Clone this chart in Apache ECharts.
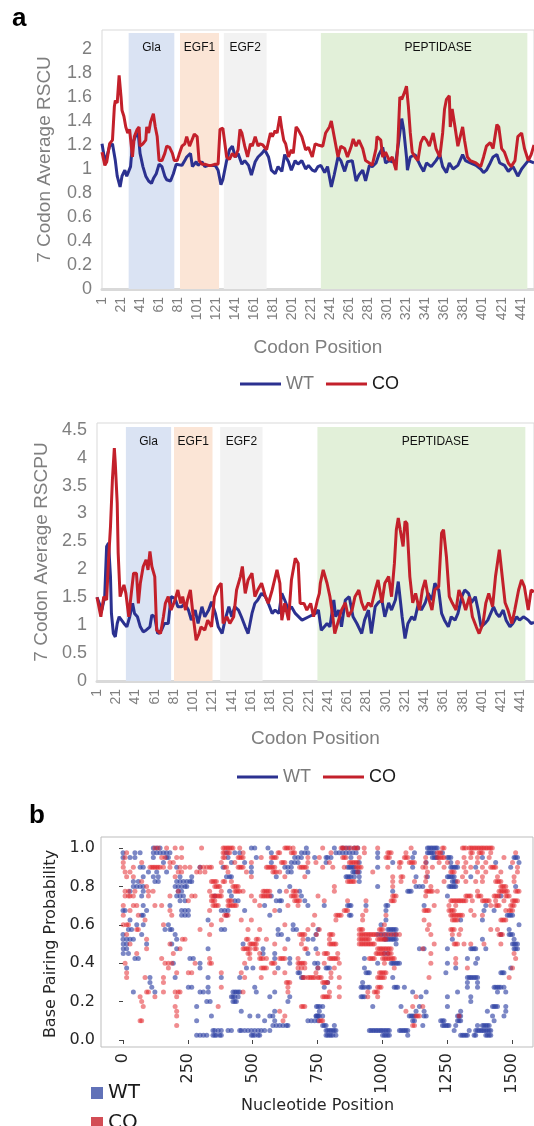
<!DOCTYPE html>
<html><head><meta charset="utf-8">
<script src="https://cdn.jsdelivr.net/npm/echarts@6/dist/echarts.min.js"></script>
<style>html,body{margin:0;padding:0;background:#fff}#c{width:534px;height:1126px}</style>
</head><body><div id="c"></div><script>
// ---------- Panel a (top): 7 Codon Average RSCU ----------
const codonTickLabels = ['1','21','41','61','81','101','121','141','161','181','201','221','241','261','281','301','321','341','361','381','401','421','441'];
const codonCount = 455;
const domainNames = ['Gla','EGF1','EGF2','PEPTIDASE'];
const domainColors = ['#dae3f3','#fbe5d6','#f2f2f2','#e2f0d9'];
const domainStartA = [29, 83, 129, 231];
const domainEndA = [77, 124, 174, 448];
const domainStartB = [31, 81, 129, 230];
const domainEndB = [78, 121, 173, 446];

const rscuWT = [[1,1.21],[4,1.07],[6,1.1],[9,1.19],[12,1.21],[15,1.07],[17,0.94],[20,0.85],[22,0.94],[25,0.99],[27,0.94],[31,1.02],[33,1.21],[36,1.27],[39,1.3],[41,1.13],[44,1.02],[47,0.94],[50,0.9],[53,0.88],[55,0.92],[58,0.96],[61,1.04],[64,1.02],[67,0.94],[69,0.91],[73,0.9],[76,0.96],[79,1.04],[81,1.04],[85,1.03],[88,1.07],[90,1.1],[94,1.13],[96,1.02],[100,1.06],[102,1.03],[106,1.06],[109,1.02],[113,1.03],[116,1.03],[120,1.03],[123,0.99],[126,0.87],[128,0.91],[132,1.07],[135,1.16],[138,1.19],[141,1.1],[144,1.13],[148,1.04],[151,1.07],[155,1.03],[158,0.95],[162,1.06],[165,1.1],[169,1.13],[172,1.16],[176,1.1],[179,0.99],[183,0.96],[186,1.02],[190,0.98],[193,1.12],[197,1.06],[200,0.99],[204,1.07],[207,1.04],[211,1.07],[215,1.0],[218,1.03],[222,0.99],[225,0.98],[228,1.02],[231,1.03],[235,0.97],[238,1.02],[242,0.85],[245,0.95],[249,1.1],[252,1.07],[256,0.98],[259,1.06],[264,1.07],[268,0.9],[271,0.95],[275,0.99],[278,0.9],[282,1.03],[285,1.02],[289,1.05],[292,1.12],[296,1.18],[299,1.05],[303,1.07],[306,1.06],[310,1.07],[313,1.24],[316,1.42],[318,1.33],[321,1.1],[322,0.99],[325,1.1],[330,1.12],[336,1.02],[339,0.98],[342,1.05],[347,1.02],[352,1.07],[356,1.12],[359,1.02],[363,0.97],[366,1.05],[370,1.0],[375,1.03],[380,1.12],[383,1.07],[388,1.05],[394,1.03],[399,1.0],[402,0.97],[405,0.99],[409,1.05],[412,1.1],[416,1.12],[419,1.05],[424,1.03],[428,0.98],[433,1.02],[438,0.94],[442,1.0],[445,1.03],[449,1.07],[455,1.05]];
const rscuCO = [[1,1.14],[4,1.03],[6,1.06],[9,1.21],[12,1.24],[14,1.52],[15,1.57],[17,1.55],[19,1.78],[21,1.6],[22,1.49],[24,1.44],[26,1.35],[28,1.3],[30,1.33],[33,1.1],[35,1.27],[38,1.33],[40,1.35],[41,1.19],[44,1.21],[47,1.24],[48,1.35],[50,1.3],[52,1.39],[53,1.38],[55,1.46],[57,1.35],[59,1.27],[61,1.07],[64,1.07],[67,1.13],[69,1.19],[72,1.18],[75,1.13],[77,1.07],[80,1.07],[82,1.12],[85,1.19],[88,1.21],[90,1.27],[93,1.19],[95,1.18],[98,1.29],[101,1.27],[103,1.07],[106,1.04],[109,1.04],[113,1.03],[116,1.03],[120,1.04],[123,1.04],[125,1.33],[128,1.34],[130,1.33],[132,1.1],[135,1.08],[138,1.13],[141,1.1],[144,1.16],[146,1.33],[148,1.3],[151,1.19],[154,1.1],[157,1.21],[159,1.19],[162,1.27],[165,1.19],[167,1.21],[170,1.2],[174,1.16],[178,1.3],[180,1.27],[183,1.32],[185,1.3],[188,1.44],[190,1.33],[192,1.24],[194,1.21],[197,1.1],[200,1.16],[202,1.13],[205,1.35],[207,1.33],[211,1.27],[215,1.16],[218,1.18],[222,1.1],[225,1.21],[228,1.2],[233,1.19],[236,1.3],[240,1.35],[242,1.4],[245,1.27],[249,1.1],[252,1.19],[256,1.17],[259,1.1],[263,1.19],[265,1.25],[268,1.19],[271,1.24],[275,1.17],[278,1.07],[282,1.05],[285,1.03],[289,1.17],[290,1.27],[294,1.24],[296,1.1],[299,1.14],[303,1.07],[306,1.1],[310,0.99],[312,1.22],[314,1.6],[316,1.58],[319,1.64],[321,1.69],[323,1.52],[325,1.3],[327,1.14],[330,1.1],[333,1.07],[336,1.22],[339,1.27],[342,1.24],[345,1.19],[349,1.3],[352,1.17],[356,1.1],[359,1.3],[361,1.5],[363,1.58],[366,1.61],[367,1.35],[369,1.5],[372,1.35],[375,1.19],[380,1.35],[382,1.24],[385,1.1],[388,1.07],[394,1.05],[399,1.02],[402,1.1],[405,1.19],[409,1.22],[412,1.17],[416,1.37],[418,1.35],[421,1.17],[424,1.14],[428,1.05],[431,1.02],[435,1.07],[438,1.27],[442,1.3],[445,1.17],[449,1.07],[452,1.12],[455,1.2]];

// ---------- Panel a (bottom): 7 Codon Average RSCPU ----------
const rscpuWT = [[1,1.5],[2,1.51],[6,1.27],[9,1.51],[11,2.41],[13,2.47],[15,1.87],[16,1.21],[18,0.85],[20,0.79],[22,1.03],[24,1.15],[26,1.15],[29,1.03],[32,0.97],[35,1.15],[38,1.39],[40,1.21],[43,1.15],[46,0.97],[49,0.88],[52,0.91],[56,0.97],[58,1.18],[61,1.15],[64,0.85],[68,0.91],[71,1.03],[75,1.03],[78,1.51],[82,1.48],[85,1.33],[89,1.33],[92,1.39],[96,1.27],[99,1.09],[103,1.27],[106,1.03],[110,1.33],[113,1.15],[117,1.27],[120,1.42],[124,1.21],[127,0.97],[131,0.85],[134,1.09],[138,1.33],[141,1.15],[144,1.33],[148,1.27],[151,1.15],[155,0.97],[158,0.85],[162,1.21],[165,1.39],[168,1.45],[172,1.57],[176,1.51],[179,1.39],[183,1.21],[186,1.27],[190,1.21],[193,1.57],[196,1.45],[200,1.27],[203,1.33],[207,1.21],[214,1.09],[221,1.15],[228,1.21],[231,1.27],[234,0.91],[240,1.03],[243,0.97],[247,1.45],[249,1.15],[252,1.27],[255,0.97],[259,1.45],[263,1.51],[267,1.15],[271,1.03],[276,0.85],[279,1.09],[283,1.27],[286,0.85],[290,1.33],[293,1.4],[297,1.45],[300,1.15],[304,1.4],[307,1.27],[311,1.45],[314,1.78],[318,1.15],[321,0.76],[324,1.03],[328,1.15],[331,1.09],[335,1.4],[338,1.27],[342,1.4],[345,1.57],[349,1.45],[352,1.75],[356,1.63],[359,1.21],[362,1.09],[366,0.97],[369,1.15],[373,1.09],[376,1.21],[380,1.51],[383,1.63],[387,1.57],[390,1.4],[394,1.51],[397,1.27],[400,0.97],[404,1.03],[407,1.09],[413,1.33],[416,1.21],[419,1.15],[423,1.27],[426,1.09],[430,0.97],[433,1.03],[437,1.15],[440,1.09],[444,1.15],[449,1.09],[452,1.03],[455,1.05]];
const rscpuCO = [[1,1.5],[2,1.51],[5,1.15],[8,1.51],[11,1.45],[13,2.17],[15,2.76],[17,3.6],[19,4.17],[20,3.9],[22,3.18],[23,2.29],[25,1.51],[27,1.63],[29,1.72],[31,1.57],[34,1.15],[37,1.63],[39,1.93],[42,1.93],[44,1.39],[46,1.75],[49,2.05],[52,2.17],[54,1.99],[56,2.32],[58,2.05],[61,1.87],[63,0.91],[67,0.85],[70,1.15],[72,1.39],[75,1.51],[78,1.27],[82,1.45],[85,1.63],[88,1.39],[90,1.51],[93,1.27],[95,1.45],[98,1.63],[101,1.15],[104,0.73],[107,0.85],[109,0.97],[113,0.91],[116,1.09],[120,0.97],[123,1.51],[127,1.69],[130,1.75],[132,1.03],[136,1.15],[139,1.03],[143,1.15],[146,1.63],[150,1.87],[152,2.05],[155,1.57],[158,1.81],[162,1.93],[165,1.51],[168,1.63],[172,1.75],[176,1.51],[179,1.39],[183,1.63],[188,1.99],[191,1.75],[193,1.09],[196,1.39],[200,1.09],[203,1.81],[207,2.2],[210,2.11],[212,1.39],[216,1.39],[219,1.27],[223,1.39],[226,1.15],[230,1.45],[232,1.57],[233,1.75],[236,1.99],[240,1.75],[243,1.51],[246,1.15],[248,0.85],[252,1.09],[255,1.27],[259,1.4],[262,1.15],[266,1.27],[269,1.51],[273,1.63],[276,1.4],[279,1.27],[283,1.4],[286,1.33],[290,1.63],[293,1.81],[297,1.4],[300,1.75],[304,1.87],[307,1.51],[310,2.11],[312,2.71],[314,2.92],[316,2.71],[319,2.41],[321,2.86],[323,2.82],[326,1.87],[329,1.4],[332,1.57],[336,1.27],[339,1.63],[342,1.81],[345,1.51],[349,1.27],[352,1.63],[356,1.69],[359,2.65],[361,2.71],[364,2.23],[367,1.51],[370,1.4],[374,1.27],[377,1.63],[381,1.45],[384,1.27],[388,1.51],[391,1.15],[395,0.97],[398,0.85],[402,1.03],[405,1.4],[408,1.57],[412,1.33],[415,1.87],[419,2.35],[422,1.87],[425,1.4],[428,1.27],[432,1.03],[435,1.27],[439,1.63],[442,1.81],[445,1.69],[449,1.27],[452,1.63],[455,1.6]];

// ---------- Panel b: base pairing probability (rows: [probability, [nucleotide positions]]) ----------
const nucTickLabels = [0, 250, 500, 750, 1000, 1250, 1500];
const pairWT = [
[1.0,[117,130,143,495,508,559,707,815,847,860,873,892,905,1174,1180,1187,1193,1200,1206,1212]],
[0.975,[0,46,66,117,130,143,156,168,181,399,431,450,572,688,701,713,821,834,847,860,873,886,899,982,1124,1174,1180,1187,1193,1200,1232]],
[0.95,[0,27,46,117,168,175,405,514,662,675,688,739,783,789,802,879,982,1117,1193,1200,1206,1212,1251,1257,1264,1386,1508,1514,1521]],
[0.925,[156,418,469,572,649,662,675,783,911,1040,1169,1264,1437,1527]],
[0.9,[66,78,207,297,386,495,624,636,649,866,873,879,886,892,982,1117,1264,1270,1277,1283,1290,1360,1495]],
[0.875,[98,130,168,495,636,649,713,886,892,899,905,911]],
[0.85,[78,117,136,220,265,399,411,418,591,860,866,873,879,892,911,1130,1174,1251,1257,1264,1270,1277,1341]],
[0.825,[40,59,123,136,207,220,233,246,258,265,911,1270,1277,1283]],
[0.8,[40,53,66,78,201,213,226,239,246,643,982,1130,1143,1156,1257,1264,1270,1277,1283,1514]],
[0.775,[27,78,213,226,411,604,681,1040,1098,1104,1111]],
[0.75,[72,207,220,233,354,418,572,688,1251,1457]],
[0.725,[220,239,431,444,591,604,611,701]],
[0.7,[78,181,546,713,776,866,873,879,937,1014,1021,1161,1399]],
[0.675,[0,8,91,226,239,252,379,392,405,469,604,1014,1392,1431]],
[0.65,[72,78,226,239,252,399,566,873,879,1482,1489,1495,1502]],
[0.625,[27,328,1014,1302,1386]],
[0.6,[53,78,175,656,995,1527]],
[0.575,[21,33,162,181,188,379,392,598,656,669,752,1021,1027,1034,1040,1046,1053,1489]],
[0.55,[0,72,201,598,611,744,982,995,1008,1021,1034,1046,1053,1457,1489,1495,1502]],
[0.525,[0,14,27,40,207,636,713,733,1008,1014,1021,1027,1034,1040,1046,1053,1270,1386,1508]],
[0.5,[1,14,91,188,463,1053,1502,1508,1514,1521]],
[0.475,[1,14,207,328,540,744,1143,1161,1251,1341,1347,1354,1360,1399,1508,1514,1521]],
[0.45,[1,21,540,585,713,1008,1021]],
[0.425,[46,59,258,271,585,643,931,1328,1367]],
[0.4,[194,297,643,739,751,982,1034,1040,1046,1053,1059,1066,1251,1360]],
[0.375,[14,297,476,501,598,751,783,789,796,931,1283,1495]],
[0.35,[675,681,937,944,950,1245,1457,1463,1469]],
[0.325,[104,201,328,379,450,688,694,1040,1328,1335,1341,1347,1354,1360,1367]],
[0.3,[104,789,924,1328,1367]],
[0.275,[111,252,265,328,508,776,918,924,931,944,950,1046,1053,1059,1085,1328,1367,1431,1437,1444,1450,1457,1469]],
[0.25,[40,123,297,310,329,424,431,437,444,450,514,585,1117,1169,1290,1444,1476]],
[0.225,[418,424,431,444,566,643,918,924,931,1149,1251,1341]],
[0.2,[323,336,424,431,437,636,1341]],
[0.175,[284,746,752,759,770,963,1072,1143,1251,1425,1431,1437,1444,1476]],
[0.15,[456,585,757,1130,1161,1302,1405,1476]],
[0.125,[341,489,521,566,578,746,752,744,751,757,770,1104,1111,1117,1124,1169,1161,1290,1296,1302,1425,1469]],
[0.1,[284,546,585,713,726,739,752,1117,1124,1225,1232,1238,1290,1296,1302,1431]],
[0.075,[578,591,604,617,630,636,770,776,783,815,1156,1232,1238,1245,1251,1257,1283,1367,1386,1392,1399,1405,1412]],
[0.05,[347,354,367,379,405,418,450,456,469,482,495,508,521,533,546,566,783,789,796,802,809,815,821,950,956,963,969,976,982,989,995,1001,1008,1014,1021,1027,1066,1072,1079,1085,1091,1098,1277,1335,1360,1367,1373,1380,1386,1392,1399,1405,1412,1418]],
[0.025,[284,297,310,323,347,354,360,373,379,495,501,508,521,527,783,789,796,802,809,821,1001,1008,1014,1021,1027,1098,1302,1309,1315,1322,1328,1354,1360,1399,1405,1412,1418]]
];
const pairCO = [
[1.0,[123,136,168,201,226,303,386,392,399,405,411,418,424,450,624,630,636,643,656,770,841,847,853,866,879,892,899,905,930,982,1111,1232,1238,1309,1315,1322,1335,1341,1347,1354,1360,1367,1373,1380,1386,1392,1399,1405,1412,1418,1424]],
[0.975,[14,386,392,405,411,463,598,604,649,656,662,802,931,1021,1027,1034,1091,1212,1219,1225,1341,1347,1373,1380,1386,1418,1514]],
[0.95,[8,149,162,207,226,386,392,444,450,456,463,533,572,578,585,591,713,757,847,853,860,911,1014,1021,1027,1085,1091,1098,1167,1212,1219,1225,1232,1238,1315,1341,1367,1412,1469]],
[0.925,[1,72,181,194,379,431,495,611,617,624,713,744,796,873,879,886,892,899,905,1066,1072,1104,1111,1117,1124,1167,1219,1251,1290,1322,1367,1399,1502]],
[0.9,[1,40,104,111,117,123,130,136,143,156,181,220,239,258,297,310,323,334,341,392,399,444,450,456,463,553,559,566,572,578,585,681,688,694,701,707,770,809,853,899,905,911,918,1021,1066,1156,1167,1193,1238,1315,1341,1386,1418,1425,1431,1437,1521]],
[0.875,[8,27,213,226,284,297,316,405,476,578,585,591,604,905,963,1174,1264,1270,1277,1322,1367,1399,1457,1521]],
[0.85,[14,40,201,495,624,701,1040,1072,1079,1169,1309,1386,1444,1508]],
[0.825,[72,341,347,354,360,386,392,418,866,873,879,886,892,1040,1072,1124,1167,1238,1290,1322,1360,1386,1437,1444,1450,1457,1508]],
[0.8,[91,354,360,367,373,424,431,437,444,815,1040,1187,1457,1463,1469,1476]],
[0.775,[8,21,46,98,116,213,334,379,431,437,444,450,463,540,546,553,559,566,630,656,662,669,815,1169,1174,1180,1187,1193,1212,1367,1450,1457,1463,1469,1476,1482,1514,1521,1527]],
[0.75,[8,21,27,40,98,181,265,278,341,347,354,360,367,373,379,495,533,540,546,553,559,566,649,656,662,669,752,1040,1046,1053,1167,1322,1328,1335,1341,1367,1373,1380,1431,1437,1444,1450,1476,1482,1489]],
[0.725,[252,341,347,354,405,411,418,508,662,669,675,681,776,866,937,1034,1040,1046,1264,1270,1277,1283,1290,1296,1302,1309,1315,1322,1347,1386,1392,1399,1405,1412,1437,1469,1502,1508,1514,1521]],
[0.7,[1,40,53,123,149,347,354,360,367,405,411,418,424,431,437,527,636,675,1200,1257,1283,1418,1437,1444,1450,1495,1502,1508]],
[0.675,[27,181,334,585,853,860,866,937,1161,1167,1174,1180,1257,1264,1270,1277,1341,1476,1489,1495,1502]],
[0.65,[1,59,188,392,399,405,739,821,828,834,841,924,1014,1264,1270,1277,1283,1290,1296,1302,1309,1354,1386]],
[0.625,[85,379,456,495,821,924,1161,1270,1277,1283,1290,1457,1463,1469,1476]],
[0.6,[1,14,21,156,341,624,733,1008,1180]],
[0.575,[53,59,297,482,527,713,757,911,918,924,989,995,1001,1174,1264,1270,1277,1302,1418,1444]],
[0.55,[14,334,681,688,694,701,746,796,802,809,911,918,924,931,937,944,950,956,963,969,976,989,1001,1014,1027,1040,1053,1066,1187,1270,1296,1450,1457,1463]],
[0.525,[91,229,239,476,482,514,521,553,694,796,911,918,924,931,937,944,950,982,989,995,1001,1008,1014]],
[0.5,[27,181,489,495,501,508,514,585,688,796,802,809,815,821,911,918,924,931,937,944,950,956,963,969,1200,1277,1283,1290,1315,1341,1392,1457]],
[0.475,[91,220,463,469,476,482,489,508,514,624,701,707,982,989,995,1001,1008,1014,1021,1027,1034,1156]],
[0.45,[53,194,482,489,527,751,776,783,789,828,976,982,989,995,1001,1008,1021,1027,1034,1187,1508]],
[0.425,[149,334,489,527,533,540,553,604,611,617,624,675,796,802,809,815,821,828,950,956,963,969,1001,1008,1014,1021,1027,1034,1040,1046,1283,1514]],
[0.4,[8,162,175,188,278,334,341,469,572,578,585,675,681,688,694,701,776,834,1008,1187,1283]],
[0.375,[175,533,540,546,553,675,688,701,752,815,1046,1328,1502]],
[0.35,[14,207,252,265,379,456,585,624,744,802,989,995,1001,1008,1014]],
[0.325,[14,85,156,469,533,694,701,713,720,726,733,739,751,757,764,802,834,982,989,995,1001,1008,1180,1489]],
[0.3,[156,630,636,643,770,776,783,789]],
[0.275,[379,636,834,982,989,995]],
[0.25,[91,98,156,201,213,220,463,636,796,944,969,976,982]],
[0.225,[66,123,207,770,776,783,789,796,834,944,982,1130]],
[0.2,[72]],
[0.175,[78,201,367,688,694,701,1117,1156]],
[0.15,[207,604,1091]],
[0.125,[207,624,1130,1136,1143,1296]],
[0.1,[66,72,617,757,764,770]],
[0.075,[207,1117,1124]]
];

// ---------- build ----------
const EXCEL_FONT = 'Liberation Sans, Arial, sans-serif';
const MPL_FONT = 'DejaVu Sans, sans-serif';
const WT_COLOR = '#2b3190';
const CO_COLOR = '#c3202b';
const codonCats = Array.from({length: codonCount}, (_, i) => String(i + 1));
const toCat = arr => arr.map(([c, v]) => [String(c), v]);
const flatRows = rows => rows.flatMap(([p, xs]) => xs.map(x => [x, p]));

function domainAreas(starts, ends, top) {
  return domainNames.map((n, i) => [
    {name: n, xAxis: String(starts[i]), yAxis: 0, itemStyle: {color: domainColors[i]},
     label: n === 'PEPTIDASE' ? {offset: [14, 0]} : {}},
    {xAxis: String(ends[i]), yAxis: top}
  ]);
}
const stepFmt = step => v => (Math.abs(v / step - Math.round(v / step)) < 1e-6 ? String(+v.toFixed(2)) : '');

function codonXAxis(gridIndex, nameGap) {
  return {
    type: 'category', gridIndex, data: codonCats, boundaryGap: false,
    axisLine: {show: true, lineStyle: {color: '#d9d9d9', width: 3}},
    axisTick: {show: false},
    axisLabel: {interval: 19, rotate: 90, fontSize: 14, color: '#7f7f7f', fontFamily: EXCEL_FONT, margin: 8},
    splitLine: {show: false},
    name: 'Codon Position', nameLocation: 'middle', nameGap,
    nameTextStyle: {fontSize: 19, color: '#7f7f7f', fontFamily: EXCEL_FONT}
  };
}
function rscuYAxis(gridIndex, max, step, name, nameGap) {
  return {
    type: 'value', gridIndex, min: 0, max, interval: step,
    axisLine: {show: false}, axisTick: {show: false}, splitLine: {show: false},
    axisLabel: {formatter: stepFmt(step), fontSize: 18, color: '#7f7f7f', fontFamily: EXCEL_FONT, margin: 10},
    name, nameLocation: 'middle', nameGap,
    nameTextStyle: {fontSize: 19, color: '#7f7f7f', fontFamily: EXCEL_FONT}
  };
}
function lineSeries(name, data, color, xi) {
  return {type: 'line', name, xAxisIndex: xi, yAxisIndex: xi, data: toCat(data), showSymbol: false, symbol: 'none',
    lineStyle: {color, width: 3}, itemStyle: {color}, z: 3, animation: false};
}
function bgSeries(xi, starts, ends, top) {
  return {type: 'line', name: 'bg' + xi, xAxisIndex: xi, yAxisIndex: xi, data: [], z: 1, silent: true,
    markArea: {silent: true, z: 1, label: {show: true, position: 'insideTop', distance: 9, color: '#111', fontSize: 12, fontFamily: EXCEL_FONT},
      data: domainAreas(starts, ends, top)}};
}
const lineLegend = (left, top) => ({left, top, itemWidth: 41, itemHeight: 14, itemGap: 12, icon: 'path://M0,6H41V9H0Z',
  textStyle: {fontSize: 18, fontFamily: EXCEL_FONT},
  data: [{name: 'WT', textStyle: {color: '#7a7a7a'}}, {name: 'CO', textStyle: {color: '#1a1a1a'}}]});
const dotLegend = (top, name, color) => ({left: 86, top, icon: 'rect', itemWidth: 12, itemHeight: 12,
  formatter: n => n.replace('_b', ''),
  textStyle: {fontSize: 20, color: '#1a1a1a', fontFamily: MPL_FONT},
  data: [{name, itemStyle: {color}}]});

const chart = echarts.init(document.getElementById('c'), null, {renderer: 'canvas'});
chart.setOption({
  animation: false,
  backgroundColor: '#fff',
  grid: [
    {left: 102, top: 30, width: 432, height: 259, show: true, borderColor: '#d9d9d9', borderWidth: 1, backgroundColor: 'transparent'},
    {left: 97, top: 423, width: 437, height: 258, show: true, borderColor: '#d9d9d9', borderWidth: 1, backgroundColor: 'transparent'},
    {left: 123, top: 848, width: 389, height: 192}
  ],
  xAxis: [
    codonXAxis(0, 49),
    codonXAxis(1, 48),
    {type: 'value', gridIndex: 2, min: 0, max: 1500, interval: 250, offset: 7,
     axisLine: {show: false}, axisTick: {show: true, length: 4, lineStyle: {color: '#444'}},
     axisLabel: {rotate: 90, fontSize: 16, color: '#262626', fontFamily: MPL_FONT, margin: 6, formatter: v => String(v)},
     splitLine: {show: false},
     name: 'Nucleotide Position', nameLocation: 'middle', nameGap: 39,
     nameTextStyle: {fontSize: 16, color: '#262626', fontFamily: MPL_FONT}}
  ],
  yAxis: [
    rscuYAxis(0, 2.158, 0.2, '7 Codon Average RSCU', 48),
    rscuYAxis(1, 4.62, 0.5, '7 Codon Average RSCPU', 43),
    {type: 'value', gridIndex: 2, min: 0, max: 1, interval: 0.2, offset: 22,
     axisLine: {show: false}, axisTick: {show: true, length: 4, lineStyle: {color: '#444'}},
     axisLabel: {formatter: v => v.toFixed(1), fontSize: 16, color: '#262626', fontFamily: MPL_FONT, margin: 6},
     splitLine: {show: false},
     name: 'Base Pairing Probability', nameLocation: 'middle', nameGap: 32,
     nameTextStyle: {fontSize: 16, color: '#262626', fontFamily: MPL_FONT}}
  ],
  legend: [
    lineLegend(235, 370),
    lineLegend(232, 763),
    dotLegend(1078, 'WT_b', '#3a4fa6'),
    dotLegend(1108, 'CO_b', '#c8212b')
  ],
  graphic: [
    {type: 'text', left: 12, top: 6, style: {text: 'a', font: 'bold 26px Liberation Sans, Arial', fill: '#000'}},
    {type: 'text', left: 29, top: 803, style: {text: 'b', font: 'bold 26px Liberation Sans, Arial', fill: '#000'}},
    {type: 'rect', shape: {x: 101, y: 837, width: 432, height: 210}, style: {fill: 'none', stroke: '#bdbdbd', lineWidth: 1}, silent: true, z: 10}
  ],
  series: [
    bgSeries(0, domainStartA, domainEndA, 2.133),
    lineSeries('WT', rscuWT, WT_COLOR, 0),
    lineSeries('CO', rscuCO, CO_COLOR, 0),
    bgSeries(1, domainStartB, domainEndB, 4.55),
    lineSeries('WT', rscpuWT, WT_COLOR, 1),
    lineSeries('CO', rscpuCO, CO_COLOR, 1),
    {type: 'scatter', name: 'WT_b', xAxisIndex: 2, yAxisIndex: 2, clip: false, symbolSize: 5,
     itemStyle: {color: 'rgba(48,68,165,0.8)'}, data: flatRows(pairWT)},
    {type: 'scatter', name: 'CO_b', xAxisIndex: 2, yAxisIndex: 2, clip: false, symbolSize: 5,
     itemStyle: {color: 'rgba(226,35,40,0.65)'}, data: flatRows(pairCO)}
  ]
});
</script></body></html>
